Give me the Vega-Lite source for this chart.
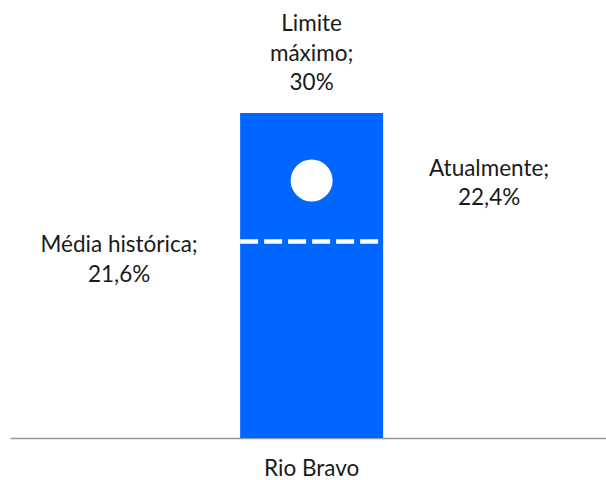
{
  "$schema": "https://vega.github.io/schema/vega-lite/v6.json",
  "autosize": {"type": "none"},
  "width": 596,
  "height": 325,
  "padding": {"left": 10, "top": 113, "right": 0, "bottom": 42},
  "background": "white",
  "config": {
    "view": {"stroke": null},
    "font": "Lato",
    "text": {"font": "Lato", "fontSize": 22.5, "color": "#1a1a1a", "lineHeight": 29.5, "lineBreak": "\n"}
  },
  "data": {"values": [
    {"fundo": "Rio Bravo", "limite": 30, "atual": 22.4, "media": 21.6,
     "limite_label": "Limite\nmáximo;\n30%", "atual_label": "Atualmente;\n22,4%", "media_label": "Média histórica;\n21,6%"}
  ]},
  "encoding": {
    "x": {"field": "fundo", "type": "nominal",
      "scale": {"paddingInner": 0.3687, "paddingOuter": 1, "align": 0.508},
      "axis": {"title": null, "domainColor": "#999999", "domainWidth": 1.5, "ticks": false, "labelAngle": 0,
        "labelFont": "Lato", "labelFontSize": 22.5, "labelColor": "#1a1a1a", "labelPadding": 19}}
  },
  "layer": [
    {
      "layer": [
        {"mark": {"type": "bar", "color": "#0066FF"},
         "encoding": {"y": {"field": "limite", "type": "quantitative", "scale": {"domain": [0, 30], "nice": false}, "axis": null}}},
        {"mark": {"type": "text", "baseline": "alphabetic", "align": "center", "dy": -82},
         "encoding": {"y": {"field": "limite", "type": "quantitative"}, "text": {"field": "limite_label"}}}
      ]
    },
    {
      "layer": [
        {"mark": {"type": "rule", "color": "white", "strokeWidth": 4.5, "strokeDash": [18, 6]},
         "encoding": {
           "x": {"field": "fundo", "type": "nominal", "bandPosition": 0},
           "x2": {"field": "fundo", "bandPosition": 1},
           "y": {"field": "media", "type": "quantitative", "scale": {"domain": [19.023, 23.285], "nice": false, "zero": false}, "axis": null}}},
        {"mark": {"type": "point", "filled": true, "color": "white", "opacity": 1, "size": 1764},
         "encoding": {"y": {"field": "atual", "type": "quantitative"}}},
        {"mark": {"type": "text", "baseline": "alphabetic", "align": "center", "dx": 177.5, "dy": -4.5},
         "encoding": {"y": {"field": "atual", "type": "quantitative"}, "text": {"field": "atual_label"}}},
        {"mark": {"type": "text", "baseline": "alphabetic", "align": "center", "dx": -192.5, "dy": 11},
         "encoding": {"y": {"field": "media", "type": "quantitative"}, "text": {"field": "media_label"}}}
      ]
    }
  ],
  "resolve": {"scale": {"y": "independent"}}
}
